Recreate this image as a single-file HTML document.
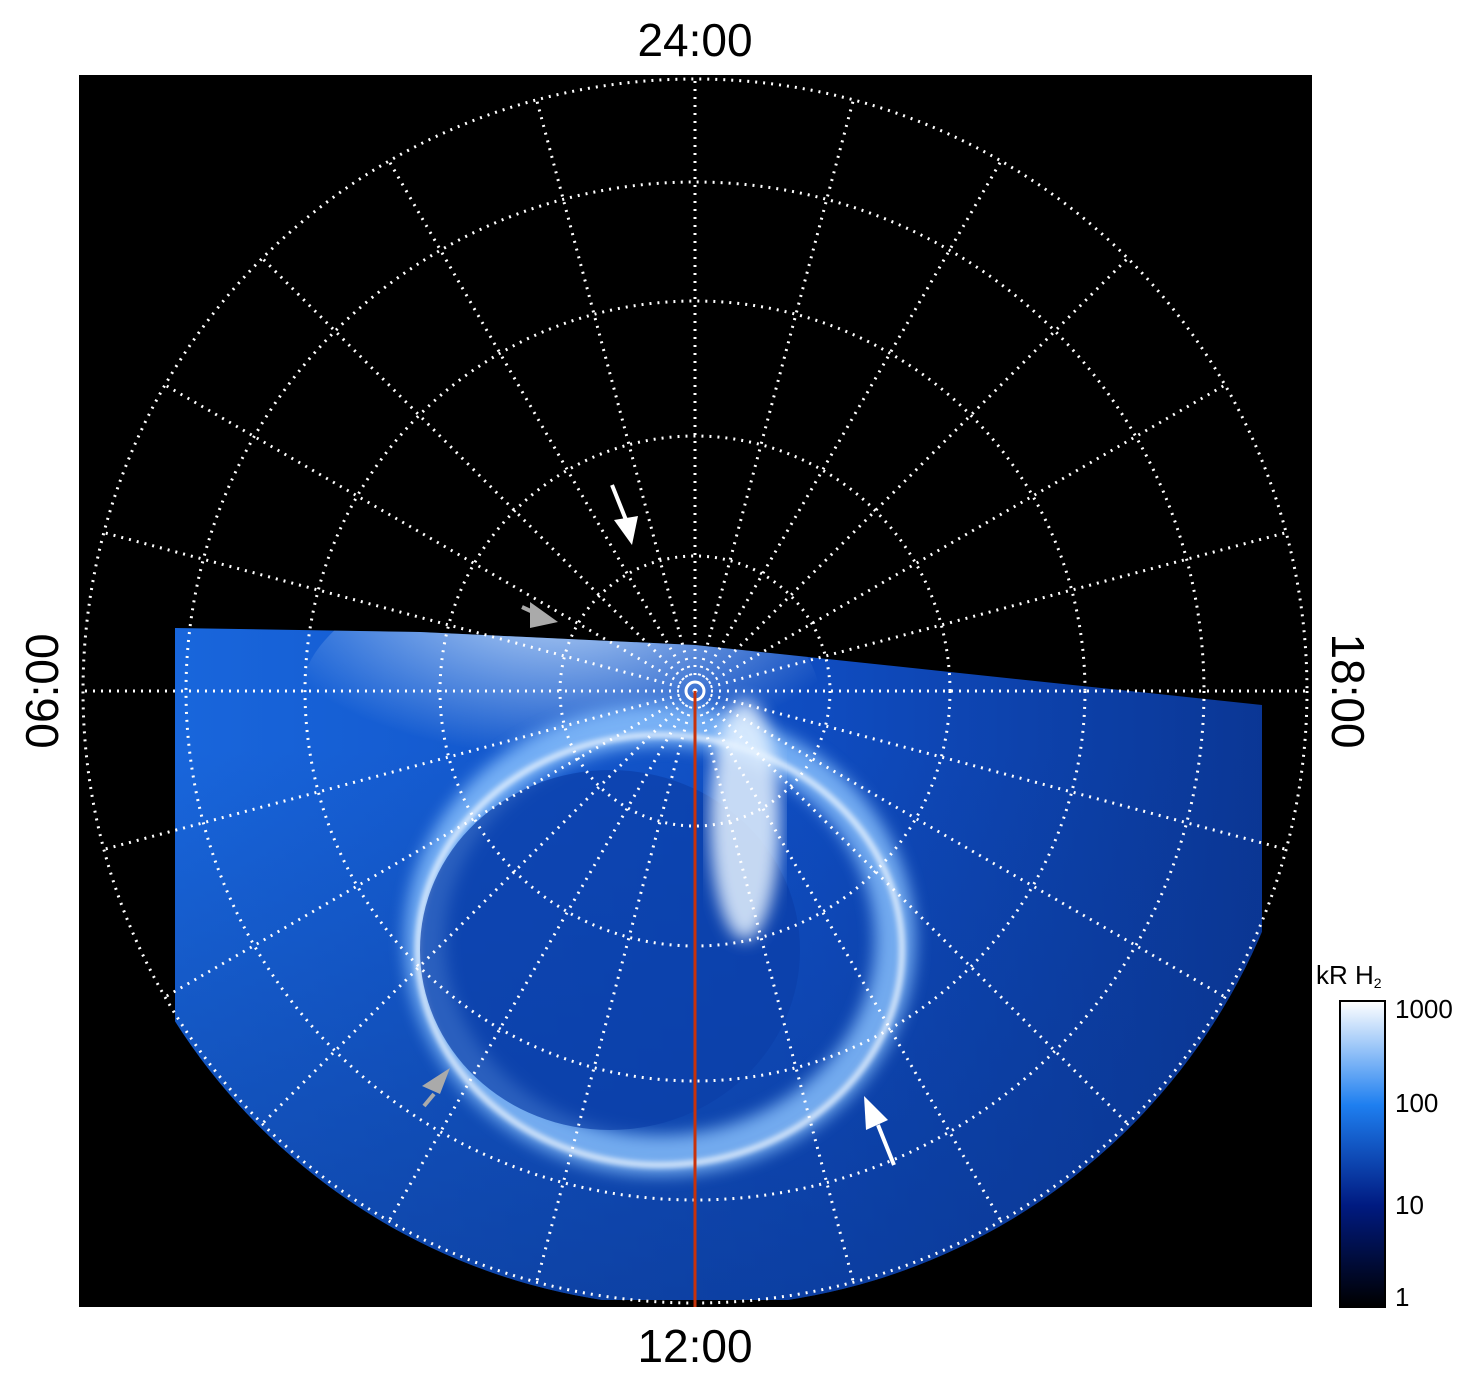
<!DOCTYPE html>
<html><head><style>
html,body{margin:0;padding:0;background:#fff;}
svg{display:block;font-family:"Liberation Sans",sans-serif;}
</style></head><body>
<svg width="1480" height="1384" viewBox="0 0 1480 1384" xmlns="http://www.w3.org/2000/svg">
<defs>
<clipPath id="disk"><circle cx="695" cy="691" r="616"/></clipPath>
<clipPath id="aur"><path d="M175 628 L420 632 L695 645 L1262 705 L1262 1300 L175 1300 Z"/></clipPath>
<linearGradient id="cb" x1="0" y1="1" x2="0" y2="0">
<stop offset="0" stop-color="#000"/><stop offset="0.33" stop-color="#001a80"/>
<stop offset="0.66" stop-color="#1e7ff0"/><stop offset="1" stop-color="#fff"/></linearGradient>
<linearGradient id="lg" x1="0" y1="0" x2="1" y2="0">
<stop offset="0" stop-color="#1a6ae0"/><stop offset="0.6" stop-color="#0f4cc0"/><stop offset="1" stop-color="#0a3490"/></linearGradient>
<linearGradient id="vg" x1="0" y1="0" x2="0" y2="1">
<stop offset="0" stop-color="#0a358c" stop-opacity="0"/><stop offset="1" stop-color="#0a358c" stop-opacity="0.6"/></linearGradient>
<radialGradient id="glow" cx="0.5" cy="0.1" r="0.6">
<stop offset="0" stop-color="#d8ecff"/><stop offset="1" stop-color="#d8ecff" stop-opacity="0"/></radialGradient>
<filter id="bl"><feGaussianBlur stdDeviation="8"/></filter>
<filter id="bl2"><feGaussianBlur stdDeviation="3"/></filter>
</defs>
<rect x="79" y="75" width="1233" height="1232" fill="#000"/>
<g clip-path="url(#disk)"><g clip-path="url(#aur)">
<rect x="79" y="600" width="1233" height="710" fill="url(#lg)"/>
<rect x="79" y="750" width="1233" height="560" fill="url(#vg)"/>
<ellipse cx="560" cy="700" rx="260" ry="140" fill="url(#glow)" opacity="0.9"/>
<ellipse cx="660" cy="940" rx="235" ry="215" fill="none" stroke="#8cc4ff" stroke-width="40" filter="url(#bl)" opacity="0.8"/>
<ellipse cx="660" cy="950" rx="242" ry="215" fill="none" stroke="#f0f8ff" stroke-width="5" filter="url(#bl2)"/>
<ellipse cx="610" cy="950" rx="190" ry="180" fill="#0b3ea8" opacity="0.7"/>
<ellipse cx="745" cy="820" rx="35" ry="120" fill="#e6f3ff" filter="url(#bl)" opacity="0.85"/>
</g></g>
<g fill="none" stroke="#fff" stroke-width="3" stroke-dasharray="2 6">
<circle cx="695" cy="691" r="612"/><circle cx="695" cy="691" r="509"/>
<circle cx="695" cy="691" r="390"/><circle cx="695" cy="691" r="255"/><circle cx="695" cy="691" r="135"/>
<g id="rad">
<line x1="695" y1="691" x2="695" y2="79"/>
</g>
<use href="#rad" transform="rotate(15 695 691)"/><use href="#rad" transform="rotate(30 695 691)"/>
<use href="#rad" transform="rotate(45 695 691)"/><use href="#rad" transform="rotate(60 695 691)"/>
<use href="#rad" transform="rotate(75 695 691)"/><use href="#rad" transform="rotate(90 695 691)"/>
<use href="#rad" transform="rotate(105 695 691)"/><use href="#rad" transform="rotate(120 695 691)"/>
<use href="#rad" transform="rotate(135 695 691)"/><use href="#rad" transform="rotate(150 695 691)"/>
<use href="#rad" transform="rotate(165 695 691)"/><use href="#rad" transform="rotate(180 695 691)"/>
<use href="#rad" transform="rotate(195 695 691)"/><use href="#rad" transform="rotate(210 695 691)"/>
<use href="#rad" transform="rotate(225 695 691)"/><use href="#rad" transform="rotate(240 695 691)"/>
<use href="#rad" transform="rotate(255 695 691)"/><use href="#rad" transform="rotate(270 695 691)"/>
<use href="#rad" transform="rotate(285 695 691)"/><use href="#rad" transform="rotate(300 695 691)"/>
<use href="#rad" transform="rotate(315 695 691)"/><use href="#rad" transform="rotate(330 695 691)"/>
<use href="#rad" transform="rotate(345 695 691)"/>
</g>
<circle cx="695" cy="691" r="9" fill="none" stroke="#fff" stroke-width="3"/>
<line x1="695" y1="691" x2="695" y2="1307" stroke="#c8320a" stroke-width="3"/>
<g stroke-width="4">
<line x1="612" y1="485" x2="626" y2="520" stroke="#fff"/><polygon points="614,520 638,516 632,545" fill="#fff"/>
<line x1="522" y1="607" x2="535" y2="613" stroke="#aaa"/><polygon points="530,602 558,622 530,628" fill="#aaa"/>
<line x1="424" y1="1106" x2="434" y2="1094" stroke="#aaa"/><polygon points="422,1086 450,1068 440,1094" fill="#aaa"/>
<line x1="894" y1="1165" x2="878" y2="1125" stroke="#fff"/><polygon points="864,1096 866,1130 888,1120" fill="#fff"/>
</g>
<g font-size="46" fill="#000" text-anchor="middle">
<text x="695" y="56">24:00</text>
<text x="695" y="1362">12:00</text>
<text transform="translate(58 691) rotate(-90)">06:00</text>
<text transform="translate(1332 691) rotate(90)">18:00</text>
</g>
<rect x="1340" y="1001" width="45" height="306" fill="url(#cb)" stroke="#000" stroke-width="2"/>
<g font-size="26" fill="#000">
<text x="1395" y="1018">1000</text><text x="1395" y="1112">100</text>
<text x="1395" y="1214">10</text><text x="1395" y="1306">1</text>
<text x="1316" y="984">kR H<tspan font-size="14" dy="4">2</tspan></text>
</g>
</svg>
</body></html>
